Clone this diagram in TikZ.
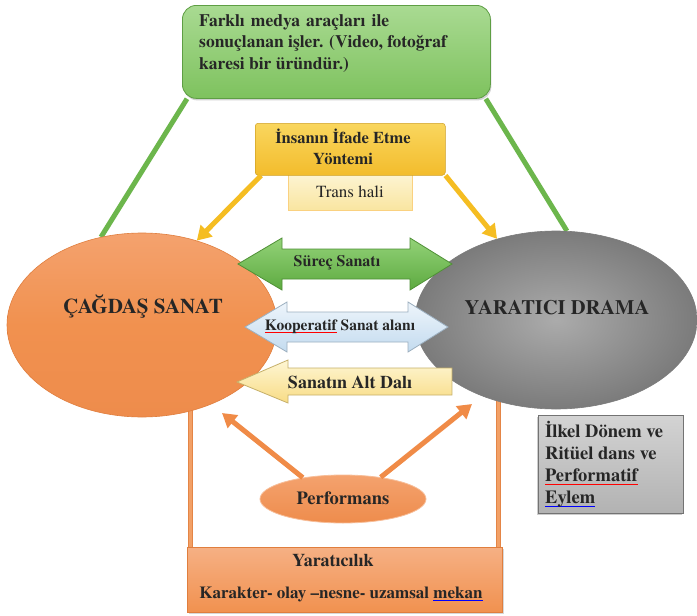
\documentclass[tikz,border=0pt]{standalone}
\usepackage{fontspec}
\setmainfont{texgyretermes}[Extension=.otf, UprightFont=*-regular, BoldFont=*-bold, ItalicFont=*-italic, BoldItalicFont=*-bolditalic]
\usetikzlibrary{shapes.geometric,arrows.meta,shadows}
\pgfdeclarelayer{bg}
\pgfsetlayers{bg,main}
\definecolor{gline}{HTML}{6CB64C}
\definecolor{gboxT}{HTML}{A9DA92}
\definecolor{gboxB}{HTML}{7EC25E}
\definecolor{gboxD}{HTML}{5E9E44}
\definecolor{yline}{HTML}{F5BD22}
\definecolor{yboxT}{HTML}{F9D65E}
\definecolor{yboxB}{HTML}{F3BC2C}
\definecolor{tboxT}{HTML}{FDF4D2}
\definecolor{tboxB}{HTML}{F9E5A0}
\definecolor{orT}{HTML}{F4A26E}
\definecolor{orM}{HTML}{F1914F}
\definecolor{orB}{HTML}{EE8C4C}
\definecolor{orD}{HTML}{E07E3E}
\definecolor{oline}{HTML}{F08B47}
\definecolor{frl}{HTML}{F2A066}
\definecolor{grIn}{HTML}{ABABAB}
\definecolor{grOut}{HTML}{7B7B7B}
\definecolor{grBoxT}{HTML}{D3D3D3}
\definecolor{grBoxB}{HTML}{B2B2B2}
\definecolor{sgT}{HTML}{93D278}
\definecolor{sgB}{HTML}{5DAA40}
\definecolor{sbT}{HTML}{EEF5FB}
\definecolor{sbB}{HTML}{C3DBEF}
\definecolor{syT}{HTML}{FEF6D4}
\definecolor{syB}{HTML}{F8DC85}
\newcommand\myfs[2]{\fontsize{#1}{#2}\selectfont}
\newcommand\myul[2]{\setbox0\hbox{#2}\leavevmode\rlap{\textcolor{#1}{\rule[-0.35ex]{\wd0}{0.9pt}}}\box0\relax}
\begin{document}
\begin{tikzpicture}[x=1pt,y=-1pt,
  txt/.style={font=\bfseries\myfs{#1}{24}, inner sep=0, text=black!85},
  glinestyle/.style={draw=gline, line width=5pt},
  yarr/.style={draw=yline, line width=5pt, -{Triangle[length=14pt,width=16pt]}},
  oarr/.style={draw=oline, line width=5pt, -{Triangle[length=14pt,width=16pt]}},
  framel/.style={draw=orD!80!frl, line width=5pt},
  framein/.style={draw=frl, line width=3pt},
  band/.style={line width=0.8pt}
]
\begin{pgfonlayer}{bg}
\fill[white] (0,0) rectangle (697,616);
\end{pgfonlayer}
\useasboundingbox (0,0) rectangle (697,616);

% ellipses
\node[ellipse, minimum width=270pt, minimum height=184pt, inner sep=0,
  top color=orT, bottom color=orB, middle color=orM, draw=orD, line width=0.6pt] (cs) at (142,325) {};
\node[txt=21] (cst) at (143,307) {ÇAĞDAŞ SANAT};
\node[ellipse, minimum width=282pt, minimum height=178pt, inner sep=0,
  inner color=grIn, outer color=grOut, draw=grOut, line width=0.6pt] (yd) at (556,320) {};
\node[txt=20.5] (ydt) at (557,308) {YARATICI DRAMA};

% green top box
\node[anchor=north west, draw=gboxD, line width=0.8pt, rounded corners=14pt,
  minimum width=308pt, minimum height=93pt, inner sep=0,
  top color=gboxT, bottom color=gboxB, drop shadow={opacity=0.35,shadow xshift=1pt,shadow yshift=-2pt}] (gbox) at (182,5) {};
\node[anchor=north west, align=left, font=\bfseries\myfs{17.5}{21.5}, inner sep=0, text=black!85] (gtext) at (199,14)
  {\makebox[190pt][s]{Farklı medya araçları ile}\\sonuçlanan işler. (Video, fotoğraf\\karesi bir üründür.)};

% yellow boxes
\node[anchor=north west, draw=tboxB!80!orange, line width=0.5pt, minimum width=124pt, minimum height=36pt, inner sep=0,
  top color=tboxT, bottom color=tboxB] (tbox) at (288,174) {};
\node[font=\myfs{17}{20}, inner sep=0, text=black!85] (ttext) at (350,192) {Trans hali};
\node[anchor=north west, draw=yboxB!85!black, line width=0.5pt, rounded corners=3pt, minimum width=190pt, minimum height=52pt, inner sep=0,
  top color=yboxT, bottom color=yboxB] (ybox) at (255,123) {};
\node[align=center, font=\bfseries\myfs{16.5}{21.5}, inner sep=0, text=black!85] (ytext) at (343,147) {İnsanın İfade Etme\\Yöntemi};

% gray side box
\node[anchor=north west, draw=black!55, line width=1pt, minimum width=145pt, minimum height=98pt, inner sep=0,
  top color=grBoxT, bottom color=grBoxB, drop shadow={opacity=0.4,shadow xshift=-1.5pt,shadow yshift=-1.5pt}] (grbox) at (538,415) {};
\node[anchor=north west, align=left, font=\bfseries\myfs{18.5}{22}, inner sep=0, text=black!85] (grtext) at (545,421)
  {İlkel Dönem ve\\Ritüel dans ve\\\myul{red}{Performatif}\\\myul{blue}{Eylem}};

% bottom box
\node[anchor=north west, draw=orD, line width=1pt, minimum width=315pt, minimum height=65pt, inner sep=0,
  top color=orT!85!white, bottom color=orM, drop shadow={opacity=0.3,shadow xshift=1.5pt,shadow yshift=-1.5pt}] (bbox) at (187,547) {};
\node[txt=18] (btext1) at (333,561) {Yaratıcılık};
\node[txt=17] (btext2) at (341,594) {Karakter- olay –nesne- uzamsal \myul{blue}{mekan}};

% performans
\node[ellipse, minimum width=166pt, minimum height=48pt, inner sep=0,
  top color=orT, bottom color=orB, draw=orT!70!white, line width=0.8pt] (perf) at (343,499) {};
\node[txt=18.5] (perft) at (343,498) {Performans};

\coordinate (csb) at (222,413);
\coordinate (ydb) at (472,404);
\coordinate (fl1) at (190,405);
\coordinate (fl2) at (190,548);
\coordinate (fr1) at (498,398);
\coordinate (fr2) at (498,548);

\begin{pgfonlayer}{bg}
  \draw[glinestyle] ([xshift=5pt]gbox.south west) -- (cs.115);
  \draw[glinestyle] ([xshift=-5pt]gbox.south east) -- (yd.83);
  \draw[framel] (fl1) -- (fl2);
  \draw[framein] (fl1) -- (fl2);
  \draw[framel] (fr1) -- (fr2);
  \draw[framein] (fr1) -- (fr2);
\end{pgfonlayer}

\draw[yarr] ([xshift=6pt]ybox.south west) -- (cs.57);
\draw[yarr] (ybox.south east) -- (yd.126);
\draw[oarr] (perf.152) -- (csb);
\draw[oarr] (perf.30) -- (ydb);

% band arrows
\path[band, draw=sgB!85!black, top color=sgT, bottom color=sgB]
  (238,264) -- (282,238) -- (282,249) -- (410,249) -- (410,238) -- (452,264)
  -- (410,290) -- (410,279) -- (282,279) -- (282,290) -- cycle;
\node[txt=16] (sg) at (337,263) {Süreç Sanatı};

\path[band, draw=sbB!80!black, top color=sbT, bottom color=sbB]
  (245,327) -- (287,302) -- (287,312) -- (408,312) -- (408,302) -- (448,327)
  -- (408,352) -- (408,342) -- (287,342) -- (287,352) -- cycle;
\node[txt=15.5] (sb) at (340,327) {\myul{red}{Kooperatif} Sanat alanı};

\path[band, draw=syB!80!black, top color=syT, bottom color=syB]
  (237,382) -- (288,360) -- (288,368) -- (452,368) -- (452,395) -- (288,395) -- (288,403) -- cycle;
\node[txt=18] (sy) at (350,382) {Sanatın Alt Dalı};
\end{tikzpicture}
\end{document}
